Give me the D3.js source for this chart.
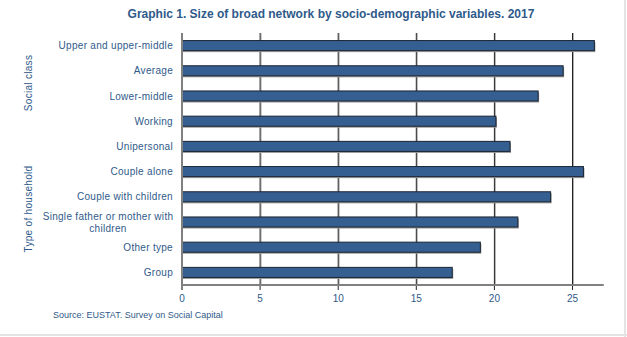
<!DOCTYPE html>
<html>
<head>
<meta charset="utf-8">
<script src="https://cdn.jsdelivr.net/npm/d3@7"></script>
<style>
  body { margin: 0; background: #fff; }
  svg { display: block; }
</style>
</head>
<body>
<svg id="chart"></svg>
<script>
// data
const categories = [
  "Upper and upper-middle", "Average", "Lower-middle", "Working",
  "Unipersonal", "Couple alone", "Couple with children",
  "Single father or mother with children", "Other type", "Group"
];
const values = [26.4, 24.4, 22.8, 20.1, 21.0, 25.7, 23.6, 21.5, 19.1, 17.3];
const groups = ["Social class", "Type of household"];
const xTicks = [0, 5, 10, 15, 20, 25];

const width = 627, height = 337;
const textColor = "#2f5a8a";
const font = "'Liberation Sans', Arial, sans-serif";
const margin = { top: 33, right: 24, bottom: 52, left: 182 };

const svg = d3.select("#chart").attr("width", width).attr("height", height);

// frame shadow on right and bottom
svg.append("line").attr("x1", width - 2).attr("x2", width - 2).attr("y1", 0).attr("y2", height)
  .attr("stroke", "#e4e4e4").attr("stroke-width", 2);
svg.append("line").attr("x1", 0).attr("x2", width).attr("y1", height - 2).attr("y2", height - 2)
  .attr("stroke", "#e4e4e4").attr("stroke-width", 2);

const x = d3.scaleLinear().domain([0, 27]).range([margin.left, margin.left + 27 * 15.62]);
const y = d3.scaleBand().domain(categories).range([margin.top, height - margin.bottom]).paddingInner(0.6).paddingOuter(0.3);

// Title
svg.append("text")
  .attr("x", 331).attr("y", 18)
  .attr("text-anchor", "middle")
  .attr("font-family", font)
  .attr("font-size", "12px").attr("font-weight", "bold")
  .attr("fill", textColor)
  .text("Graphic 1. Size of broad network by socio-demographic variables. 2017");

// gridlines (with a grey shadow)
const grid = svg.append("g");
xTicks.filter(t => t > 0).forEach(t => {
  grid.append("line").attr("x1", x(t) + 1).attr("x2", x(t) + 1)
    .attr("y1", margin.top).attr("y2", height - margin.bottom)
    .attr("stroke", "#b0b0b0").attr("stroke-width", 1);
  grid.append("line").attr("x1", x(t)).attr("x2", x(t))
    .attr("y1", margin.top).attr("y2", height - margin.bottom + 5)
    .attr("stroke", "#222").attr("stroke-width", 1);
});

// bars shadow then bars
svg.append("g").selectAll("rect").data(values).join("rect")
  .attr("x", x(0) + 1)
  .attr("y", (d, i) => y(categories[i]) + 1.5)
  .attr("width", d => x(d) - x(0))
  .attr("height", y.bandwidth())
  .attr("fill", "#9a9a9a");
svg.append("g").selectAll("rect").data(values).join("rect")
  .attr("x", x(0))
  .attr("y", (d, i) => y(categories[i]))
  .attr("width", d => x(d) - x(0))
  .attr("height", y.bandwidth())
  .attr("fill", "#365f91")
  .attr("stroke", "#1b2533")
  .attr("stroke-width", 1);

// axes
svg.append("line").attr("x1", x(0)).attr("x2", x(0))
  .attr("y1", margin.top).attr("y2", height - margin.bottom + 5)
  .attr("stroke", "#808080").attr("stroke-width", 2);
svg.append("line").attr("x1", x(0) - 1).attr("x2", x(27))
  .attr("y1", height - margin.bottom).attr("y2", height - margin.bottom)
  .attr("stroke", "#808080").attr("stroke-width", 2);

// x tick labels
svg.append("g").selectAll("text").data(xTicks).join("text")
  .attr("x", d => x(d)).attr("y", height - margin.bottom + 17)
  .attr("text-anchor", "middle")
  .attr("font-family", font).attr("font-size", "10px")
  .attr("fill", textColor)
  .text(d => d);

// category labels (long one wraps onto two centred lines)
const labels = svg.append("g");
categories.forEach(c => {
  const cy = y(c) + y.bandwidth() / 2;
  const t = labels.append("text")
    .attr("x", margin.left - 9)
    .attr("text-anchor", "end")
    .attr("font-family", font).attr("font-size", "10px")
    .attr("letter-spacing", "0.3px")
    .attr("fill", textColor);
  if (c === "Single father or mother with children") {
    const lines = ["Single father or mother with", "children"];
    t.attr("text-anchor", "middle").attr("y", cy - 2.5);
    lines.forEach((l, i) => {
      t.append("tspan").attr("x", 108).attr("dy", i ? 12.5 : 0).text(l);
    });
  } else {
    t.attr("y", cy + 3.5).text(c);
  }
});

// group labels
const groupY = { "Social class": 83, "Type of household": 209 };
groups.forEach(g => {
  svg.append("text")
    .attr("transform", `translate(32,${groupY[g]}) rotate(-90)`)
    .attr("text-anchor", "middle")
    .attr("font-family", font).attr("font-size", "10px")
    .attr("letter-spacing", "0.3px")
    .attr("fill", textColor)
    .text(g);
});

// source
svg.append("text")
  .attr("x", 53).attr("y", 318)
  .attr("font-family", font).attr("font-size", "9px")
  .attr("fill", textColor)
  .text("Source: EUSTAT. Survey on Social Capital");
</script>
</body>
</html>
